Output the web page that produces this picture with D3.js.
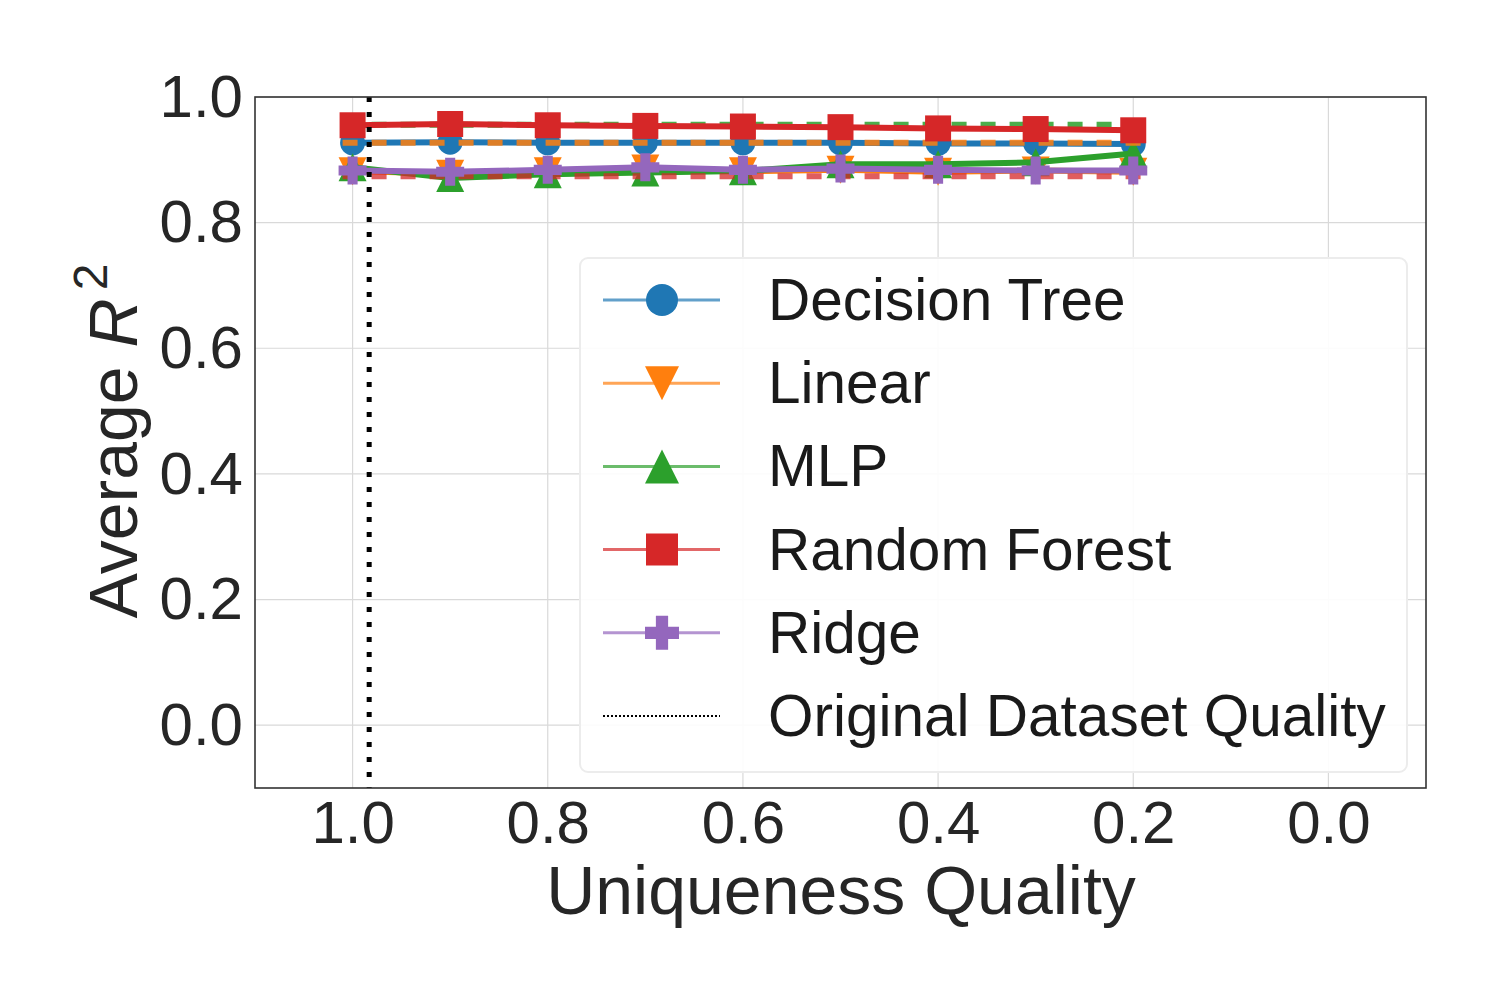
<!DOCTYPE html>
<html>
<head>
<meta charset="utf-8">
<script src="https://cdn.jsdelivr.net/npm/d3@7"></script>
<style>
  html, body { margin: 0; padding: 0; background: #fff; }
  svg { display: block; font-family: "Liberation Sans", Arial, sans-serif; }
</style>
</head>
<body>
<svg id="chart" width="1500" height="1000"></svg>
<script>
// ---------- data ----------
const qualities = [1.0, 0.9, 0.8, 0.7, 0.6, 0.5, 0.4, 0.3, 0.2];
const decisionTree = [0.927, 0.928, 0.927, 0.927, 0.927, 0.927, 0.926, 0.926, 0.925];
const linear       = [0.882, 0.878, 0.882, 0.886, 0.882, 0.884, 0.881, 0.883, 0.881];
const mlp          = [0.888, 0.871, 0.877, 0.880, 0.882, 0.893, 0.893, 0.896, 0.910];
const randomForest = [0.955, 0.957, 0.955, 0.954, 0.953, 0.952, 0.950, 0.949, 0.947];
const ridge        = [0.883, 0.881, 0.884, 0.888, 0.884, 0.886, 0.884, 0.883, 0.883];
const modelNames = ["Decision Tree", "Linear", "MLP", "Random Forest", "Ridge"];
const baselineValues = [0.927, 0.956, 0.874];     // dashed reference lines
const baselineColorIdx = [1, 2, 3];
const originalQuality = 0.983;
const xTicks = [1.0, 0.8, 0.6, 0.4, 0.2, 0.0];
const yTicks = [0.0, 0.2, 0.4, 0.6, 0.8, 1.0];
const legendLabels = ["Decision Tree", "Linear", "MLP", "Random Forest", "Ridge", "Original Dataset Quality"];

// ---------- setup ----------
const colors = ["#1f77b4", "#ff7f0e", "#2ca02c", "#d62728", "#9467bd"];
const shapes = ["circle", "triDown", "triUp", "square", "plus"];
const seriesValues = [decisionTree, linear, mlp, randomForest, ridge];
const textColor = "#262626";

const svg = d3.select("#chart");
const pLeft = 255, pRight = 1426, pTop = 97, pBottom = 788;

const x = d3.scaleLinear().domain([1.1, -0.1]).range([pLeft, pRight]);
const y = d3.scaleLinear().domain([-0.1, 1.0]).range([pBottom, pTop]);

// grid
const grid = svg.append("g");
grid.selectAll("line.gx").data(xTicks).join("line")
  .attr("x1", d => x(d)).attr("x2", d => x(d))
  .attr("y1", pTop).attr("y2", pBottom)
  .attr("stroke", "#d9d9d9").attr("stroke-width", 1.2);
grid.selectAll("line.gy").data(yTicks).join("line")
  .attr("x1", pLeft).attr("x2", pRight)
  .attr("y1", d => y(d)).attr("y2", d => y(d))
  .attr("stroke", "#d9d9d9").attr("stroke-width", 1.2);

// axes (labels only, no tick marks)
const xAxis = d3.axisBottom(x).tickValues(xTicks).tickFormat(d3.format(".1f")).tickSize(0).tickPadding(12);
const yAxis = d3.axisLeft(y).tickValues(yTicks).tickFormat(d3.format(".1f")).tickSize(0).tickPadding(12);
const gx = svg.append("g").attr("transform", `translate(0,${pBottom})`).call(xAxis);
const gy = svg.append("g").attr("transform", `translate(${pLeft},0)`).call(yAxis);
[gx, gy].forEach(g => {
  g.select(".domain").remove();
  g.selectAll("text").attr("fill", textColor).style("font-size", "60px")
    .style("font-family", "'Liberation Sans', Arial, sans-serif");
});

// marker symbol paths
function markerPath(shape, s) {
  const h = s / 2;
  switch (shape) {
    case "circle": return d3.symbol().type(d3.symbolCircle).size(Math.PI * h * h)();
    case "square": return `M${-h},${-h}H${h}V${h}H${-h}Z`;
    case "triUp": return `M0,${-h}L${h},${h}L${-h},${h}Z`;
    case "triDown": return `M0,${h}L${h},${-h}L${-h},${-h}Z`;
    case "plus": {
      const a = s * 0.18;
      return `M${-a},${-h}H${a}V${-a}H${h}V${a}H${a}V${h}H${-a}V${a}H${-h}V${-a}H${-a}Z`;
    }
  }
}

const plot = svg.append("g");
const lineGen = d3.line().x(d => x(d[0])).y(d => y(d[1]));

function drawSeries(i) {
  const pts = qualities.map((q, j) => [q, seriesValues[i][j]]);
  const g = plot.append("g");
  g.append("path").datum(pts).attr("d", lineGen)
    .attr("fill", "none").attr("stroke", colors[i]).attr("stroke-width", 6)
    .attr("stroke-linejoin", "round");
  const ms = shapes[i] === "circle" ? 25 : (shapes[i] === "square" ? 26 : 28);
  g.selectAll("path.m").data(pts).join("path")
    .attr("transform", d => `translate(${x(d[0])},${y(d[1])})`)
    .attr("d", markerPath(shapes[i], ms))
    .attr("fill", colors[i]);
}

// first three model series
[0, 1, 2].forEach(drawSeries);

// dashed baselines
plot.selectAll("line.base").data(baselineValues).join("line")
  .attr("x1", x(1.0) - 10).attr("x2", x(0.2) + 10)
  .attr("y1", d => y(d)).attr("y2", d => y(d))
  .attr("stroke", (d, i) => colors[baselineColorIdx[i]])
  .attr("stroke-opacity", (d, i) => baselineColorIdx[i] === 3 ? 0.75 : 0.85)
  .attr("stroke-width", 6)
  .attr("stroke-dasharray", "15,14");

// remaining model series
[3, 4].forEach(drawSeries);

// original dataset quality vertical dotted line
plot.append("line")
  .attr("x1", x(originalQuality)).attr("x2", x(originalQuality))
  .attr("y1", pTop).attr("y2", pBottom)
  .attr("stroke", "#000").attr("stroke-width", 5)
  .attr("stroke-dasharray", "5,10");

// frame
svg.append("rect").attr("x", pLeft).attr("y", pTop)
  .attr("width", pRight - pLeft).attr("height", pBottom - pTop)
  .attr("fill", "none").attr("stroke", "#333").attr("stroke-width", 1.6);

// axis labels
svg.append("text").attr("x", 841).attr("y", 914).attr("text-anchor", "middle")
  .attr("fill", textColor).style("font-size", "68px").text("Uniqueness Quality");

const yl = svg.append("text").attr("transform", "translate(137,441) rotate(-90)")
  .attr("text-anchor", "middle").attr("fill", textColor).style("font-size", "68px");
yl.append("tspan").text("Average ");
yl.append("tspan").style("font-style", "italic").text("R");
yl.append("tspan").attr("dy", "-30").attr("dx", "8").style("font-size", "48px").text("2");

// legend
const lg = svg.append("g");
lg.append("rect").attr("x", 580).attr("y", 258).attr("width", 827).attr("height", 514)
  .attr("rx", 8).attr("fill", "#fff").attr("fill-opacity", 0.9)
  .attr("stroke", "#ececec").attr("stroke-width", 2);
const rowY = d3.scaleLinear().domain([0, 5]).range([300, 716]);
legendLabels.forEach((lab, i) => {
  const cy = rowY(i);
  const row = lg.append("g");
  if (i < 5) {
    row.append("line").attr("x1", 603).attr("x2", 720).attr("y1", cy).attr("y2", cy)
      .attr("stroke", colors[i]).attr("stroke-opacity", 0.7).attr("stroke-width", 3);
    const ms = shapes[i] === "circle" ? 32 : (shapes[i] === "square" ? 32 : 34);
    row.append("path").attr("transform", `translate(662,${cy})`)
      .attr("d", markerPath(shapes[i], ms)).attr("fill", colors[i]);
  } else {
    row.append("line").attr("x1", 603).attr("x2", 720).attr("y1", cy).attr("y2", cy)
      .attr("stroke", "#000").attr("stroke-width", 2).attr("stroke-dasharray", "2,2");
  }
  row.append("text").attr("x", 768).attr("y", cy + 20)
    .attr("fill", "#1a1a1a").style("font-size", "58.5px").text(lab);
});
</script>
</body>
</html>
